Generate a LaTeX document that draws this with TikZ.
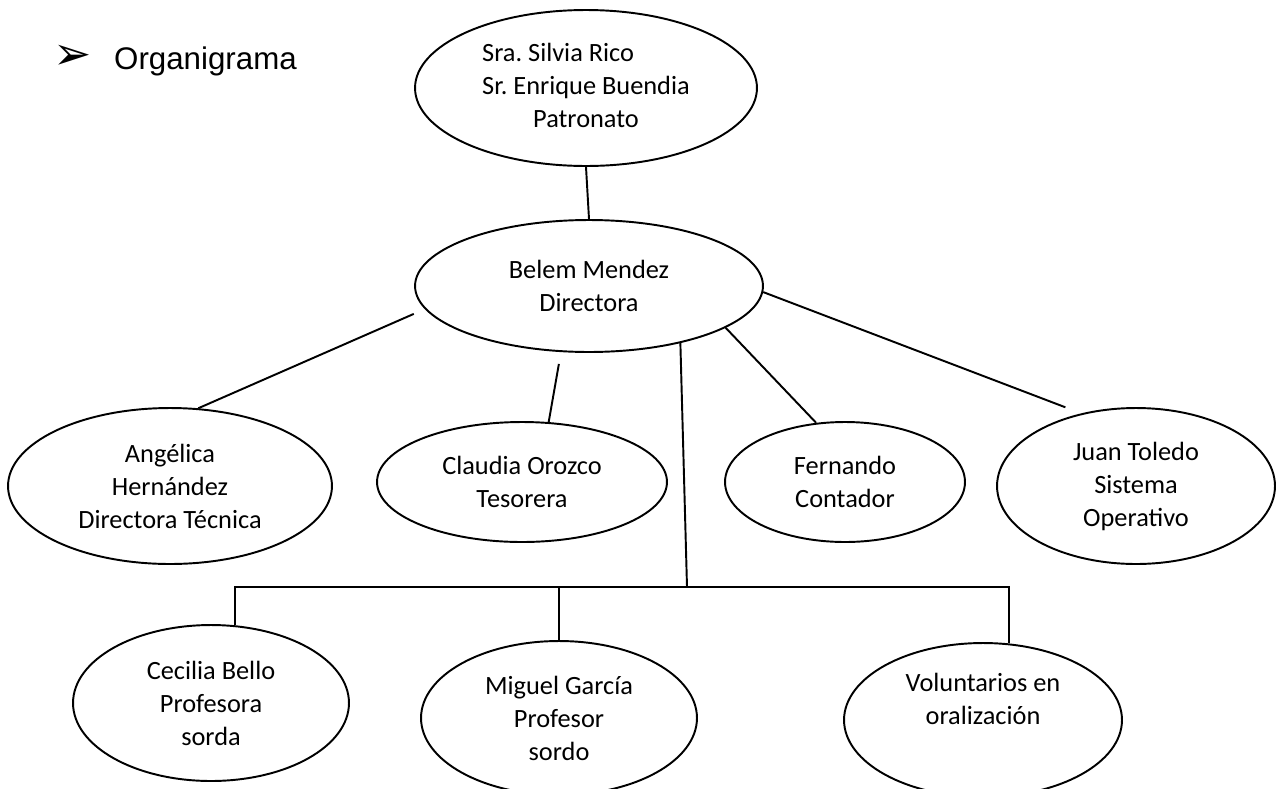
\documentclass[tikz,border=0pt]{standalone}
\usepackage{fontspec}
\setmainfont{Carlito}
\newfontfamily\arialfont{Liberation Sans}
\newfontfamily\symbfont{DejaVu Sans}
\usetikzlibrary{shapes.geometric}
\frenchspacing

\begin{document}
\begin{tikzpicture}[x=0.02cm, y=-0.02cm,
    puesto/.style={draw, ellipse, line width=1.1pt, inner sep=0pt, align=center,
        font=\fontsize{15}{18.8}\selectfont},
    enlace/.style={line width=1.1pt},
  ]
  \useasboundingbox (0,0) rectangle (1277,788);

  % Title
  \node[font=\symbfont\fontsize{26}{28}\selectfont] (bul) at (73,57) {➢};
  \node[anchor=base west, font=\arialfont\fontsize{17.8}{21}\selectfont] (titulo) at (108,69) {Organigrama};

  % Patronato and direction
  \node[puesto, minimum width=6.84cm, minimum height=3.12cm] (patr) at (586,88)
  {\begin{tabular}{@{}l@{}}Sra. Silvia Rico\\Sr. Enrique Buendia\\\multicolumn{1}{@{}c@{}}{Patronato}\end{tabular}};
  \node[puesto, minimum width=6.96cm, minimum height=2.64cm] (belem) at (589,286)
  {Belem Mendez\\Directora};

  % Second level
  \node[puesto, minimum width=6.48cm, minimum height=3.12cm] (ang) at (170,486)
  {Angélica\\Hernández\\Directora Técnica};
  \node[puesto, minimum width=5.8cm, minimum height=2.4cm] (clau) at (522,482)
  {Claudia Orozco\\Tesorera};
  \node[puesto, minimum width=4.8cm, minimum height=2.4cm] (fer) at (845,482)
  {Fernando\\Contador};
  \node[puesto, minimum width=5.56cm, minimum height=3.12cm] (juan) at (1136,486)
  {Juan Toledo\\Sistema\\Operativo};

  % Third level
  \node[puesto, minimum width=5.52cm, minimum height=3.12cm] (cec) at (211,703)
  {Cecilia Bello\\Profesora\\sorda};
  \node[puesto, minimum width=5.52cm, minimum height=3.08cm] (mig) at (559,718)
  {Miguel García\\Profesor\\sordo};
  \node[puesto, minimum width=5.56cm, minimum height=3.08cm] (vol) at (983,720)
  {Voluntarios en\\oralización\\\strut};

  % Connectors
  \draw[enlace] (patr.south) -- (belem.north);
  \draw[enlace, shorten <=0.24cm] (belem.188) -- (ang.70);
  \draw[enlace, shorten <=0.24cm] (belem.247) -- (clau.66);
  \draw[enlace] (belem.-17) -- (fer.116);
  \draw[enlace, shorten >=0.34cm] (belem.-2) -- (juan.127);

  \coordinate (rama) at (687,587);
  \draw[enlace] (belem.-32) -- (rama);
  \draw[enlace] (cec.73) |- (rama) -| (vol.71);
  \draw[enlace] (mig.north) -- (mig.north |- rama);
\end{tikzpicture}
\end{document}
